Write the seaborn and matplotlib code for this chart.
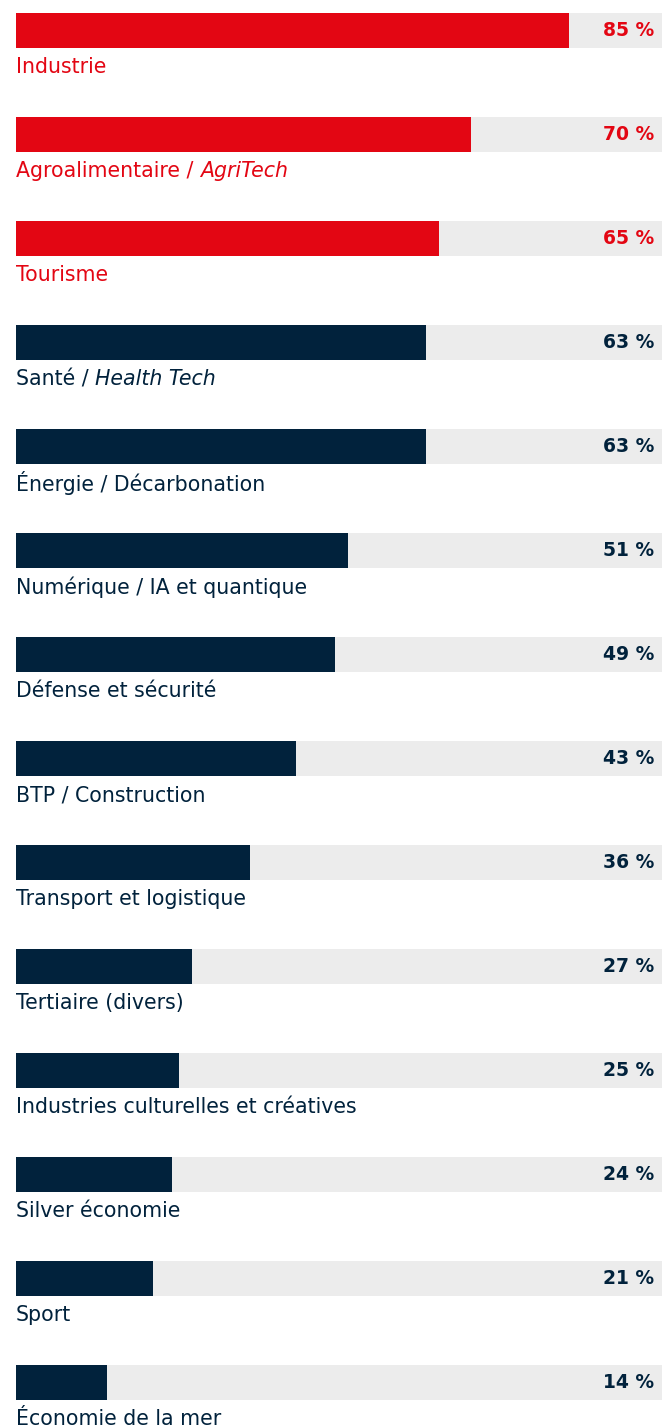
import matplotlib
matplotlib.use("Agg")
import matplotlib.pyplot as plt
import seaborn as sns
import pandas as pd

# data
sectors = [
    "Industrie", "Agroalimentaire / ", "Tourisme", "Santé / ",
    "Énergie / Décarbonation", "Numérique / IA et quantique",
    "Défense et sécurité", "BTP / Construction", "Transport et logistique",
    "Tertiaire (divers)", "Industries culturelles et créatives",
    "Silver économie", "Sport", "Économie de la mer",
]
italic_suffix = ["", "AgriTech", "", "Health Tech", "", "", "", "", "", "", "", "", "", ""]
shares = [85, 70, 65, 63, 63, 51, 49, 43, 36, 27, 25, 24, 21, 14]
highlight = [True, True, True] + [False] * 11

RED = "#E30613"
NAVY = "#01223C"
GRAY = "#ECECEC"

df = pd.DataFrame({"sector": [f"{i:02d}" for i in range(len(sectors))],
                   "share": shares, "full": 100})
df["color"] = [RED if h else NAVY for h in highlight]

sns.set_theme(style="white")
plt.rcParams["font.family"] = ["DejaVu Sans"]

fig = plt.figure(figsize=(6.62, 14.25), dpi=100)
ax = fig.add_axes([0, 0, 1, 1])

bar_w = 35 / 104
sns.barplot(data=df, y="sector", x="full", color=GRAY, width=bar_w,
            orient="h", ax=ax, saturation=1, linewidth=0)
sns.barplot(data=df, y="sector", x="share", hue="sector",
            palette=list(df["color"]), width=bar_w, orient="h", ax=ax,
            saturation=1, legend=False, dodge=False, linewidth=0)

px_per_pct = 6.506
ax.set_xlim(-16 / px_per_pct, 646 / px_per_pct)
ax.set_ylim((1425 - 30.5) / 104, -30.5 / 104)
ax.axis("off")

fig.canvas.draw()
renderer = fig.canvas.get_renderer()
fs = 14.8
for i, (name, suf, val, h) in enumerate(zip(sectors, italic_suffix, shares, highlight)):
    col = RED if h else NAVY
    t = ax.text(0, i + 0.355, name, color=col, fontsize=fs, va="center", ha="left")
    if suf:
        bb = t.get_window_extent(renderer)
        ax.annotate(suf, xy=(bb.x1, bb.y0), xycoords="figure pixels",
                    color=col, fontsize=fs, style="italic", va="bottom", ha="left")
    ax.text((654 - 16) / px_per_pct, i, f"{val} %", color=col, fontsize=13.5,
            fontweight="bold", va="center", ha="right")

fig.savefig("out.png", dpi=100)
